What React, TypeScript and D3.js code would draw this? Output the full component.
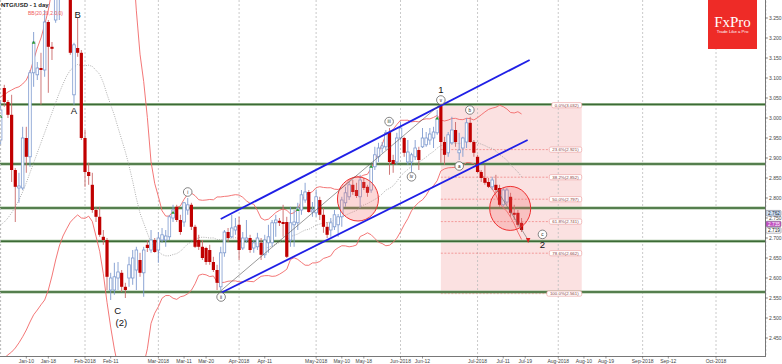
import * as d3 from "d3";
import { useEffect } from "react";

// bar numbers count weekdays from 1 Feb 2018 (= 0)
const firstBar = -23;

const opens = [
  2.945, 3.075, 3.04, 3.008, 2.87, 2.825, 2.825, 2.95, 2.903, 3.113, 3.108, 3.125, 3.12, 3.24, 3.178, 3.245, 3.33, 3.43, 3.52, 3.36,
  3.058, 3.175, 3.163, 2.95, 2.865, 2.833, 2.77, 2.753, 2.703, 2.695, 2.57, 2.57, 2.6, 2.613, 2.578, 2.6, 2.6, 2.62, 2.645, 2.613,
  2.683, 2.67, 2.695, 2.67, 2.695, 2.695, 2.703, 2.75, 2.778, 2.745, 2.74, 2.77, 2.783, 2.728, 2.695, 2.678, 2.675, 2.67, 2.64, 2.62,
  2.578, 2.663, 2.715, 2.703, 2.72, 2.733, 2.675, 2.695, 2.7, 2.675, 2.678, 2.688, 2.658, 2.688, 2.688, 2.738, 2.743, 2.74, 2.74, 2.695,
  2.733, 2.738, 2.77, 2.795, 2.815, 2.765, 2.763, 2.795, 2.758, 2.728, 2.72, 2.728, 2.733, 2.753, 2.788, 2.803, 2.833, 2.82, 2.803, 2.84,
  2.828, 2.82, 2.878, 2.903, 2.925, 2.928, 2.965, 2.895, 2.89, 2.95, 2.95, 2.89, 2.89, 2.903, 2.92, 2.928, 2.933, 2.945, 2.95, 2.963,
  3.03, 2.94, 2.913, 2.938, 2.97, 2.913, 2.925, 2.94, 2.988, 2.94, 2.903, 2.865, 2.85, 2.84, 2.828, 2.833, 2.825, 2.783, 2.79, 2.803,
  2.763, 2.763, 2.738,
];
const highs = [
  3.045, 3.083, 3.045, 3.058, 2.875, 2.863, 2.978, 2.978, 3.12, 3.215, 3.14, 3.163, 3.27, 3.245, 3.19, 3.345, 3.46, 3.58, 3.62, 3.4,
  3.188, 3.25, 3.17, 2.97, 2.888, 2.863, 2.778, 2.778, 2.72, 2.7, 2.613, 2.638, 2.64, 2.62, 2.588, 2.653, 2.67, 2.678, 2.663, 2.678,
  2.695, 2.72, 2.7, 2.715, 2.725, 2.72, 2.758, 2.783, 2.783, 2.758, 2.79, 2.8, 2.788, 2.733, 2.708, 2.695, 2.678, 2.683, 2.653, 2.633,
  2.678, 2.72, 2.725, 2.758, 2.75, 2.753, 2.715, 2.745, 2.708, 2.695, 2.713, 2.7, 2.708, 2.733, 2.745, 2.758, 2.75, 2.783, 2.753, 2.778,
  2.77, 2.788, 2.82, 2.838, 2.82, 2.79, 2.82, 2.803, 2.775, 2.74, 2.75, 2.77, 2.76, 2.803, 2.828, 2.84, 2.845, 2.838, 2.858, 2.85,
  2.833, 2.883, 2.928, 2.938, 2.94, 2.97, 2.975, 2.908, 2.963, 2.99, 2.953, 2.945, 2.913, 2.945, 2.928, 2.975, 2.965, 2.975, 2.978, 3.02,
  3.035, 2.953, 2.965, 3.003, 2.99, 2.963, 2.953, 3.0, 3.003, 2.945, 2.908, 2.87, 2.883, 2.85, 2.853, 2.858, 2.833, 2.825, 2.825, 2.813,
  2.783, 2.77, 2.75,
];
const lows = [
  2.933, 3.028, 3.0, 2.84, 2.74, 2.788, 2.82, 2.863, 2.878, 3.078, 3.095, 3.033, 3.103, 3.063, 3.145, 3.238, 3.245, 3.4, 3.33, 3.158,
  3.033, 3.153, 2.945, 2.828, 2.833, 2.763, 2.74, 2.703, 2.683, 2.57, 2.545, 2.558, 2.57, 2.565, 2.55, 2.578, 2.583, 2.57, 2.603, 2.553,
  2.665, 2.663, 2.663, 2.638, 2.688, 2.678, 2.695, 2.74, 2.74, 2.708, 2.728, 2.758, 2.72, 2.675, 2.67, 2.645, 2.633, 2.633, 2.615, 2.57,
  2.568, 2.653, 2.69, 2.7, 2.708, 2.645, 2.67, 2.688, 2.663, 2.663, 2.67, 2.645, 2.65, 2.663, 2.678, 2.703, 2.73, 2.703, 2.65, 2.678,
  2.678, 2.72, 2.758, 2.788, 2.763, 2.753, 2.753, 2.745, 2.713, 2.7, 2.703, 2.72, 2.703, 2.728, 2.778, 2.795, 2.808, 2.8, 2.775, 2.82,
  2.803, 2.813, 2.87, 2.89, 2.913, 2.92, 2.858, 2.863, 2.883, 2.945, 2.903, 2.883, 2.865, 2.895, 2.87, 2.925, 2.928, 2.933, 2.925, 2.958,
  2.888, 2.883, 2.903, 2.933, 2.928, 2.895, 2.903, 2.925, 2.938, 2.903, 2.863, 2.84, 2.833, 2.825, 2.82, 2.813, 2.778, 2.778, 2.783, 2.753,
  2.745, 2.728, 2.715,
];
const closes = [
  3.02, 3.04, 3.008, 2.87, 2.828, 2.83, 2.95, 2.903, 3.113, 3.19, 3.125, 3.12, 3.24, 3.178, 3.173, 3.33, 3.43, 3.52, 3.36, 3.163,
  3.183, 3.163, 2.95, 2.865, 2.855, 2.77, 2.753, 2.708, 2.695, 2.603, 2.6, 2.603, 2.615, 2.578, 2.57, 2.633, 2.65, 2.67, 2.613, 2.67,
  2.675, 2.695, 2.665, 2.7, 2.708, 2.705, 2.753, 2.77, 2.745, 2.715, 2.788, 2.783, 2.728, 2.678, 2.678, 2.65, 2.64, 2.64, 2.62, 2.588,
  2.663, 2.715, 2.7, 2.725, 2.728, 2.67, 2.7, 2.7, 2.67, 2.688, 2.7, 2.658, 2.695, 2.703, 2.738, 2.745, 2.738, 2.735, 2.653, 2.738,
  2.74, 2.775, 2.808, 2.815, 2.765, 2.77, 2.803, 2.758, 2.728, 2.708, 2.738, 2.758, 2.753, 2.795, 2.813, 2.833, 2.815, 2.805, 2.845, 2.825,
  2.813, 2.878, 2.908, 2.925, 2.93, 2.963, 2.89, 2.885, 2.95, 2.975, 2.913, 2.915, 2.908, 2.925, 2.895, 2.95, 2.95, 2.96, 2.965, 2.998,
  2.94, 2.908, 2.958, 2.97, 2.94, 2.92, 2.95, 2.988, 2.94, 2.913, 2.865, 2.85, 2.838, 2.828, 2.845, 2.82, 2.783, 2.82, 2.82, 2.763,
  2.758, 2.733, 2.72,
];

// Bollinger values for the first 19 bars (their history is off the chart)
const bandHeadUpper = [3.053, 3.058, 3.065, 3.07, 3.075, 3.078, 3.085, 3.095, 3.115, 3.145, 3.175, 3.2, 3.233, 3.27, 3.32, 3.37, 3.42, 3.47, 3.52];
const bandHeadMid = [2.733, 2.74, 2.75, 2.763, 2.778, 2.795, 2.815, 2.838, 2.863, 2.888, 2.913, 2.938, 2.963, 2.988, 3.013, 3.038, 3.063, 3.085, 3.105];
const bandHeadLower = [2.395, 2.4, 2.408, 2.415, 2.425, 2.438, 2.453, 2.47, 2.49, 2.508, 2.52, 2.533, 2.545, 2.57, 2.605, 2.645, 2.68, 2.705, 2.723];

const priceTicks = [3.25, 3.2, 3.15, 3.1, 3.05, 3.0, 2.95, 2.9, 2.85, 2.8, 2.75, 2.7, 2.65, 2.6, 2.55, 2.5, 2.45];
const dateLabels = ["Jan-10", "Jan-18", "Feb-2018", "Feb-11", "Mar-2018", "Mar-11", "Mar-20", "Apr-2018", "Apr-11", "May-2018", "May-10", "May-18", "Jun-2018", "Jun-12", "Jul-2018", "Jul-11", "Jul-19", "Aug-2018", "Aug-10", "Aug-19", "Sep-2018", "Sep-12", "Oct-2018"];
const dateBars = [-16, -10, 0, 7, 20, 27, 33, 42, 49, 63, 70, 76, 86, 92, 107, 114, 120, 129, 136, 142, 152, 159, 172];
const monthBars = [-23, 0, 20, 42, 63, 86, 107, 129, 152, 172];

const levelPrices = [3.034, 2.885, 2.775, 2.692, 2.565];

const fibRatios = ["0.0%", "23.6%", "38.2%", "50.0%", "61.8%", "78.6%", "100.0%"];
const fibPrices = [3.032, 2.921, 2.852, 2.797, 2.741, 2.662, 2.561];
const fibBars = [97, 135.4];

const channelBars = [37, 121.2];
const channelUpper = [2.7475, 3.145];
const channelLower = [2.5625, 2.945];
const trendBars = [37, 97];
const trendPrices = [2.568, 3.035];
const arrowBars = [112.3, 120.8];
const arrowPrices = [2.82, 2.695];

const circleBars = [74.4, 115.9];
const circlePrices = [2.7975, 2.774];

const waveTexts = ["i", "ii", "iii", "iv", "v", "a", "b", "c"];
const waveBars = [28, 37.1, 82.9, 89, 97, 102, 104.9, 124.7];
const wavePrices = [2.815, 2.5525, 2.991, 2.853, 3.045, 2.88, 3.02, 2.709];

const labelTexts = ["A", "B", "C", "(2)", "1", "2"];
const labelBars = [-3, -2, 8.9, 9.9, 97, 124.7];
const labelPrices = [3.02, 3.26, 2.52, 2.49, 3.0725, 2.685];

const markerBars = [-23, -14, 24, 58, 78, 96];
const markerPrices = [3.003, 3.188, 2.763, 2.77, 2.878, 2.999];

const quotePrices = [2.762, 2.735, 2.719];
const quoteFills = ["#cfe0f3", "#c24fc2", "#ffffff"];
const quoteText = ["#123", "#fff", "#111"];

const W = 782;
const H = 364;
const plotRight = 765;
const plotBottom = 356;
const font = "'Liberation Sans', Arial, sans-serif";

export default function App() {
  useEffect(() => {
    document.body.style.margin = "0";
  }, []);

  const x = d3.scaleLinear().domain([0, 172]).range([85, 716]);
  const y = d3.scaleLinear().domain([3.295, 2.405]).range([0, plotBottom]);
  const bar = (i: number) => firstBar + i;

  const band = closes.map((_, i) => {
    if (i < 19) return { u: bandHeadUpper[i], m: bandHeadMid[i], l: bandHeadLower[i] };
    const win = closes.slice(i - 19, i + 1);
    const m = d3.mean(win) as number;
    const sd = Math.sqrt(d3.mean(win, (d) => (d - m) * (d - m)) as number);
    return { u: m + 2 * sd, m, l: m - 2 * sd };
  });
  const bandLine = (key: "u" | "m" | "l") =>
    d3
      .line<{ u: number; m: number; l: number }>()
      .x((_, i) => x(bar(i)))
      .y((d) => y(d[key]))(band) as string;

  const minorTicks = d3.range(2.41, 3.295, 0.01);

  return (
    <svg width={W} height={H} style={{ display: "block", background: "#fff" }}>
      <defs>
        <clipPath id="plot">
          <rect x={0} y={0} width={plotRight} height={plotBottom} />
        </clipPath>
      </defs>
      <g clipPath="url(#plot)">
        {/* fibonacci zone */}
        <rect
          x={x(fibBars[0])}
          y={y(fibPrices[0])}
          width={x(fibBars[1]) - x(fibBars[0])}
          height={y(fibPrices[6]) - y(fibPrices[0])}
          fill="#fbe1e1"
        />
        {monthBars.map((b) => (
          <line key={b} x1={x(b)} x2={x(b)} y1={0} y2={plotBottom} stroke="#bdbdbd" strokeWidth={0.8} strokeDasharray="2,2" />
        ))}
        {fibPrices.map((p) => (
          <line key={p} x1={x(fibBars[0])} x2={x(fibBars[1])} y1={y(p)} y2={y(p)} stroke="#ef7b7b" strokeWidth={0.7} strokeDasharray="2,1.5" />
        ))}
        {levelPrices.map((p) => (
          <g key={p}>
            <line x1={0} x2={plotRight} y1={y(p)} y2={y(p)} stroke="#9fbe98" strokeWidth={3} />
            <line x1={0} x2={plotRight} y1={y(p)} y2={y(p)} stroke="#3c6a36" strokeWidth={1.4} />
          </g>
        ))}
        <path d={bandLine("u")} fill="none" stroke="#f26868" strokeWidth={0.9} />
        <path d={bandLine("l")} fill="none" stroke="#f26868" strokeWidth={0.9} />
        <path d={bandLine("m")} fill="none" stroke="#9a9a9a" strokeWidth={0.8} strokeDasharray="1,1.3" />

        {closes.map((c, i) => {
          const o = opens[i];
          const cx = x(bar(i));
          const up = c >= o;
          const top = y(Math.max(o, c));
          const h = Math.max(1, y(Math.min(o, c)) - top);
          return (
            <g key={i}>
              <line x1={cx} x2={cx} y1={y(highs[i])} y2={y(lows[i])} stroke={up ? "#7f9bcf" : "#c96a6a"} strokeWidth={0.9} />
              {up ? (
                <rect x={cx - 1.3} y={top} width={2.6} height={h} fill="#fff" stroke="#7f9bcf" strokeWidth={0.8} />
              ) : (
                <rect x={cx - 1.6} y={top} width={3.2} height={h} fill="#c00000" />
              )}
            </g>
          );
        })}

        {markerBars.map((b, i) => (
          <path
            key={b}
            d={`M${x(b)},${y(markerPrices[i]) - 2}L${x(b) + 1.8},${y(markerPrices[i]) + 1}L${x(b) - 1.8},${y(markerPrices[i]) + 1}Z`}
            fill="#2e9b2e"
          />
        ))}

        {circleBars.map((b, i) => (
          <ellipse key={b} cx={x(b)} cy={y(circlePrices[i])} rx={20.5} ry={22} fill="rgba(245,110,110,0.28)" stroke="#ee3030" strokeWidth={1} />
        ))}

        <line x1={x(channelBars[0])} x2={x(channelBars[1])} y1={y(channelUpper[0])} y2={y(channelUpper[1])} stroke="#1f1fe6" strokeWidth={1.8} />
        <line x1={x(channelBars[0])} x2={x(channelBars[1]) - 2} y1={y(channelLower[0])} y2={y(channelLower[1])} stroke="#1f1fe6" strokeWidth={1.8} />
        <line x1={x(trendBars[0])} x2={x(trendBars[1])} y1={y(trendPrices[0])} y2={y(trendPrices[1])} stroke="#555" strokeWidth={0.6} />
        <line x1={x(arrowBars[0])} x2={x(arrowBars[1])} y1={y(arrowPrices[0])} y2={y(arrowPrices[1])} stroke="#666" strokeWidth={0.6} />
        <path
          d={`M${x(arrowBars[1])},${y(arrowPrices[1]) + 3}l-2.2,-5l4.4,0Z`}
          fill="#e02020"
        />

        {waveTexts.map((t, i) => (
          <g key={t} transform={`translate(${x(waveBars[i])},${y(wavePrices[i])})`}>
            <circle r={4.3} fill="#fff" stroke="#666" strokeWidth={0.8} />
            <text textAnchor="middle" dy="1.6" fontSize={4.6} fontFamily={font} fill="#222">
              {t}
            </text>
          </g>
        ))}
        {labelTexts.map((t, i) => (
          <text
            key={t}
            x={x(labelBars[i])}
            y={y(labelPrices[i])}
            textAnchor="middle"
            dominantBaseline="central"
            fontSize={9.5}
            fontFamily={font}
            fill="#111"
          >
            {t}
          </text>
        ))}

        {fibPrices.map((p, i) => {
          const label = `${fibRatios[i]}(${p.toFixed(3)})`;
          const w = label.length * 2.45 + 3;
          return (
            <g key={p}>
              <rect x={x(fibBars[1]) - w} y={y(p) - 2.6} width={w} height={5.2} rx={1.5} fill="#fff" stroke="#eb9a9a" strokeWidth={0.6} />
              <text x={x(fibBars[1]) - w / 2} y={y(p) + 1.6} textAnchor="middle" fontSize={4.4} fontFamily={font} fill="#8a3a3a">
                {label}
              </text>
            </g>
          );
        })}
      </g>

      <text x={1} y={7} fontSize={6} fontWeight="bold" fontFamily={font} fill="#222">
        NTG/USD - 1 day
      </text>
      <text x={28} y={15} fontSize={5} fontFamily={font} fill="#f05a5a">
        BB(20,20,2.0,0)
      </text>

      {/* axes */}
      <line x1={0.5} x2={0.5} y1={0} y2={plotBottom} stroke="#bbb" strokeWidth={0.8} strokeDasharray="2,2" />
      <line x1={0} x2={plotRight} y1={plotBottom + 0.5} y2={plotBottom + 0.5} stroke="#555" strokeWidth={0.8} />
      <line x1={plotRight + 0.5} x2={plotRight + 0.5} y1={0} y2={plotBottom + 1} stroke="#555" strokeWidth={0.8} />
      {minorTicks.map((p) => (
        <line key={p} x1={plotRight} x2={plotRight + 1.5} y1={y(p)} y2={y(p)} stroke="#777" strokeWidth={0.5} />
      ))}
      {priceTicks.map((p) => (
        <g key={p}>
          <line x1={plotRight} x2={plotRight + 3} y1={y(p)} y2={y(p)} stroke="#555" strokeWidth={0.6} />
          <text x={plotRight + 4} y={y(p) + 1.7} fontSize={5} fontFamily={font} fill="#444">
            {d3.format(".3f")(p)}
          </text>
        </g>
      ))}
      {quotePrices.map((p, i) => (
        <g key={p}>
          <rect x={plotRight + 1} y={y(p) - 2.8} width={15} height={5.6} rx={1} fill={quoteFills[i]} stroke="#667" strokeWidth={0.5} />
          <text x={plotRight + 3} y={y(p) + 1.7} fontSize={4.8} fontFamily={font} fill={quoteText[i]}>
            {d3.format(".3f")(p)}
          </text>
        </g>
      ))}
      {dateBars.map((b, i) => (
        <g key={b}>
          <line x1={x(b)} x2={x(b)} y1={plotBottom} y2={plotBottom + 2.5} stroke="#555" strokeWidth={0.6} />
          <text x={x(b)} y={363} textAnchor="middle" fontSize={5} fontFamily={font} fill="#444">
            {dateLabels[i]}
          </text>
        </g>
      ))}

      {/* logo */}
      <rect x={708} y={0} width={49} height={49} fill="#ee2b27" />
      <text x={732.5} y={26.5} textAnchor="middle" fontSize={15} fontFamily="'Liberation Serif', 'DejaVu Serif', serif" fill="#fff">
        FxPro
      </text>
      <text x={732.5} y={33.3} textAnchor="middle" fontSize={4.3} fontFamily={font} fill="#fff">
        Trade Like a Pro
      </text>
    </svg>
  );
}
